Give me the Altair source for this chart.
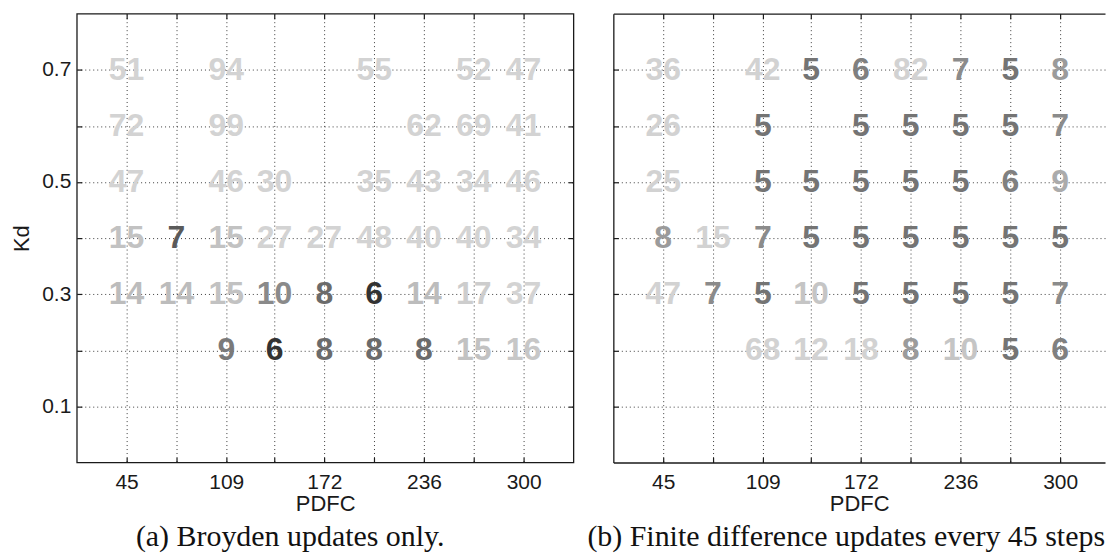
import altair as alt
import pandas as pd

# PDFC grid (columns) and Kd rows
pdfc_values = [45, 77, 109, 140, 172, 204, 236, 268, 300]
pdfc_labelled = [45, 109, 172, 236, 300]
kd_labelled = [0.1, 0.3, 0.5, 0.7]
kd_gridlines = [0.1, 0.2, 0.3, 0.4, 0.5, 0.6, 0.7]

# Iteration counts, Broyden updates only (one entry per PDFC value, None = no run)
broyden_kd_07 = [51, None, 94, None, None, 55, None, 52, 47]
broyden_kd_06 = [72, None, 99, None, None, None, 62, 69, 41]
broyden_kd_05 = [47, None, 46, 30, None, 35, 43, 34, 46]
broyden_kd_04 = [15, 7, 15, 27, 27, 48, 40, 40, 34]
broyden_kd_03 = [14, 14, 15, 10, 8, 6, 14, 17, 37]
broyden_kd_02 = [None, None, 9, 6, 8, 8, 8, 15, 16]

# Iteration counts, finite difference updates every 45 steps
fd45_kd_07 = [36, None, 42, 5, 6, 82, 7, 5, 8]
fd45_kd_06 = [26, None, 5, None, 5, 5, 5, 5, 7]
fd45_kd_05 = [25, None, 5, 5, 5, 5, 5, 6, 9]
fd45_kd_04 = [8, 15, 7, 5, 5, 5, 5, 5, 5]
fd45_kd_03 = [47, 7, 5, 10, 5, 5, 5, 5, 7]
fd45_kd_02 = [None, None, 68, 12, 18, 8, 10, 5, 6]


def build_table(rows):
    records = []
    for kd, counts in rows:
        for pdfc, n in zip(pdfc_values, counts):
            if n is not None:
                records.append({"pdfc": pdfc, "kd": kd, "iters": n})
    return pd.DataFrame(records)


broyden = build_table([
    (0.7, broyden_kd_07), (0.6, broyden_kd_06), (0.5, broyden_kd_05),
    (0.4, broyden_kd_04), (0.3, broyden_kd_03), (0.2, broyden_kd_02),
])
fd45 = build_table([
    (0.7, fd45_kd_07), (0.6, fd45_kd_06), (0.5, fd45_kd_05),
    (0.4, fd45_kd_04), (0.3, fd45_kd_03), (0.2, fd45_kd_02),
])

Y_SCALE = alt.Scale(domain=[0, 0.8], nice=False, zero=False)
NUM_FONT = "Liberation Sans Narrow, Liberation Sans, Arial, sans-serif"
CAPTION_FONT = "Liberation Serif, Times New Roman, serif"
EDGE = "#1a1a1a"

broyden_shades = alt.Scale(
    type="linear", clamp=True,
    domain=[6, 7, 8, 10, 14, 18],
    range=["#333333", "#5a5a5a", "#6b6b6b", "#8a8a8a", "#bcbcbc", "#d3d3d3"],
)
fd45_shades = alt.Scale(
    type="linear", clamp=True,
    domain=[5, 6, 7, 8, 9, 10, 12],
    range=["#747474", "#808080", "#8b8b8b", "#9b9b9b", "#ababab", "#c5c5c5", "#d2d2d2"],
)


def panel(df, shades, caption, caption_dx, with_y_labels, width, x_max, boxed):
    x_scale = alt.Scale(domain=[13, x_max], nice=False, zero=False)
    base = alt.Chart(df)

    # grid lines plus inward ticks on the bottom and left edges
    grid_layer = base.mark_point(opacity=0).encode(
        x=alt.X("pdfc:Q", scale=x_scale, axis=alt.Axis(
            orient="bottom", values=pdfc_values, grid=True, labels=False,
            ticks=True, tickSize=5, offset=-5, domain=False, title=None)),
        y=alt.Y("kd:Q", scale=Y_SCALE, axis=alt.Axis(
            orient="left", values=kd_gridlines, grid=True, labels=False,
            ticks=True, tickSize=5, offset=-5, domain=False, title=None)),
    )
    # inward ticks on the top edge, and on the right edge of a closed box
    if boxed:
        right_ticks = alt.Axis(
            orient="right", values=kd_gridlines, grid=False, labels=False,
            ticks=True, tickSize=5, offset=-5, domain=False, title=None)
    else:
        right_ticks = None
    tick_layer = base.mark_point(opacity=0).encode(
        x=alt.X("pdfc:Q", scale=x_scale, axis=alt.Axis(
            orient="top", values=pdfc_values, grid=False, labels=False,
            ticks=True, tickSize=5, offset=-5, domain=False, title=None)),
        y=alt.Y("kd:Q", scale=Y_SCALE, axis=right_ticks),
    )
    # top edge line (used when the panel is open on the right)
    top_edge = base.mark_point(opacity=0).encode(
        x=alt.X("pdfc:Q", scale=x_scale, axis=alt.Axis(
            orient="top", values=pdfc_values, grid=False, labels=False,
            ticks=False, domain=True, title=None)),
        y=alt.Y("kd:Q", scale=Y_SCALE, axis=None),
    )

    if with_y_labels:
        y_axis = alt.Axis(orient="left", values=kd_labelled, format=".1f",
                          grid=False, ticks=False, domain=not boxed, title="Kd",
                          labelPadding=6, titlePadding=8)
    else:
        y_axis = alt.Axis(orient="left", values=kd_labelled, grid=False,
                          ticks=False, labels=False, domain=not boxed, title=None)

    numbers = base.mark_text(
        font=NUM_FONT, fontSize=32, fontWeight="bold",
        align="center", baseline="middle",
    ).encode(
        x=alt.X("pdfc:Q", scale=x_scale, axis=alt.Axis(
            orient="bottom", values=pdfc_labelled, format="d", grid=False,
            ticks=False, domain=not boxed, title="PDFC", labelPadding=9,
            titlePadding=1)),
        y=alt.Y("kd:Q", scale=Y_SCALE, axis=y_axis),
        color=alt.Color("iters:Q", scale=shades, legend=None),
        text=alt.Text("iters:Q"),
    )

    layers = [grid_layer, tick_layer] + ([] if boxed else [top_edge]) + [numbers]
    props = dict(
        width=width, height=450,
        title=alt.TitleParams(
            caption, orient="bottom", font=CAPTION_FONT, fontSize=30,
            fontWeight="normal", color="#111111", offset=8, dx=caption_dx,
            frame="group",
        ),
    )
    if not boxed:
        props["view"] = alt.ViewBackground(stroke="transparent")
    return alt.layer(*layers).resolve_axis(
        x="independent", y="independent"
    ).properties(**props)


left = panel(broyden, broyden_shades, "(a) Broyden updates only.",
             -35, True, 498, 332, True)
# right panel runs off the page edge, so it is drawn open on the right
right = panel(fd45, fd45_shades, "(b) Finite difference updates every 45 steps",
              -13, False, 493, 328.8, False)

chart = alt.hconcat(left, right, spacing=40, bounds="flush").resolve_scale(
    color="independent"
).configure_view(
    stroke=EDGE, strokeWidth=1.3
).configure_axis(
    labelFont="Liberation Sans", labelFontSize=21, labelColor=EDGE,
    titleFont="Liberation Sans", titleFontSize=22, titleFontWeight="normal",
    titleColor=EDGE, gridColor="#3c3c3c", gridDash=[1, 3], gridWidth=1,
    gridOpacity=1, tickColor=EDGE, tickWidth=1.2,
    domainColor=EDGE, domainWidth=1.3,
).properties(
    padding={"left": 10, "top": 11, "right": 0, "bottom": 0}
)

chart.save("out.html", embed_options={"renderer": "svg", "actions": False})
